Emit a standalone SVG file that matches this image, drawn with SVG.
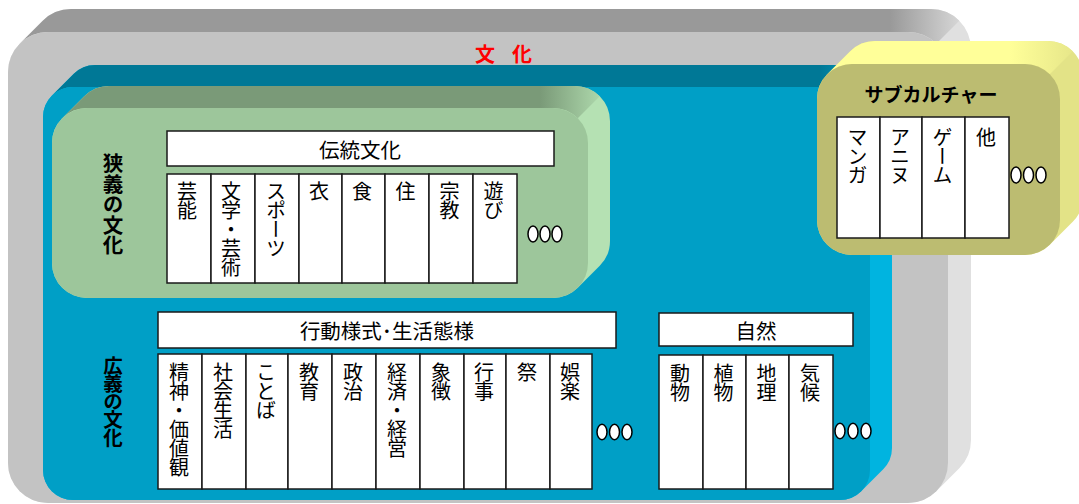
<svg xmlns="http://www.w3.org/2000/svg" width="1079" height="504" viewBox="0 0 1079 504">
<style>
.t{font-family:"Noto Sans CJK JP","Noto Sans",sans-serif;fill:#000}
.v{writing-mode:vertical-rl;font-size:20px;letter-spacing:-1px}
.h{font-size:20.5px;text-anchor:middle;dominant-baseline:central}
.b{font-weight:700}
.cell{fill:#fff;stroke:#1a1a1a;stroke-width:1.5}
.dot{fill:#fff;stroke:#000;stroke-width:1.5}
</style>
<defs>
<linearGradient id="gTop" gradientUnits="userSpaceOnUse" x1="890" y1="0" x2="971" y2="0"><stop offset="0" stop-color="#999"/><stop offset="1" stop-color="#e0e0e0"/></linearGradient>
<linearGradient id="bTop" gradientUnits="userSpaceOnUse" x1="820" y1="0" x2="892" y2="0"><stop offset="0" stop-color="#007896"/><stop offset="1" stop-color="#00b4e0"/></linearGradient>
<linearGradient id="grTop" gradientUnits="userSpaceOnUse" x1="540" y1="0" x2="610" y2="0"><stop offset="0" stop-color="#7a9a78"/><stop offset="1" stop-color="#b5e1b3"/></linearGradient>
<linearGradient id="yTop" gradientUnits="userSpaceOnUse" x1="1010" y1="0" x2="1083" y2="0"><stop offset="0" stop-color="#ffff99"/><stop offset="1" stop-color="#e3e387"/></linearGradient>
</defs>
<rect width="1079" height="504" fill="#fff"/>

<g id="culture">
<path fill="#e0e0e0" d="M 8,463 L 8,72 A 40 40 0 0 1 19.72,43.72 L 42.72,20.72 A 40 40 0 0 1 71,9 L 931,9 A 40 40 0 0 1 971,49 L 971,440 A 40 40 0 0 1 959.28,468.28 L 936.28,491.28 A 40 40 0 0 1 908,503 L 48,503 A 40 40 0 0 1 8,463 Z"/>
<path fill="url(#gTop)" d="M 19.72,43.72 L 42.72,20.72 A 40 40 0 0 1 71,9 L 931,9 A 40 40 0 0 1 959.28,20.72 L 936.28,43.72 A 40 40 0 0 0 908,32 L 48,32 A 40 40 0 0 0 19.72,43.72 Z"/>
<rect x="8" y="32" width="940" height="471" rx="40" fill="#c3c3c3"/>
<text class="t b" x="475" y="53.5" font-size="20" fill="#ff0000" style="fill:#ff0000;letter-spacing:6.25px;dominant-baseline:central">文 化</text>
</g>

<g id="broad">
<path fill="#00b4e0" d="M 43,470 L 43,117 A 30 30 0 0 1 51.79,95.79 L 73.79,73.79 A 30 30 0 0 1 95,65 L 862,65 A 30 30 0 0 1 892,95 L 892,448 A 30 30 0 0 1 883.21,469.21 L 861.21,491.21 A 30 30 0 0 1 840,500 L 73,500 A 30 30 0 0 1 43,470 Z"/>
<path fill="url(#bTop)" d="M 51.79,95.79 L 73.79,73.79 A 30 30 0 0 1 95,65 L 862,65 A 30 30 0 0 1 883.21,73.79 L 861.21,95.79 A 30 30 0 0 0 840,87 L 73,87 A 30 30 0 0 0 51.79,95.79 Z"/>
<rect x="43" y="87" width="827" height="413" rx="30" fill="#009fc6"/>
<text class="t b v" x="113" y="356" style="font-size:19.5px;letter-spacing:-1.5px">広義の文化</text>
</g>

<g id="behavior">
<rect class="cell" x="158" y="312" width="458" height="36"/>
<text class="t h" x="387" y="330">行動様式･生活態様</text>
<rect class="cell" x="158" y="354" width="44" height="135"/>
<rect class="cell" x="202" y="354" width="44" height="135"/>
<rect class="cell" x="246" y="354" width="42" height="135"/>
<rect class="cell" x="288" y="354" width="44" height="135"/>
<rect class="cell" x="332" y="354" width="44" height="135"/>
<rect class="cell" x="376" y="354" width="44" height="135"/>
<rect class="cell" x="420" y="354" width="44" height="135"/>
<rect class="cell" x="464" y="354" width="42" height="135"/>
<rect class="cell" x="506" y="354" width="44" height="135"/>
<rect class="cell" x="550" y="354" width="42" height="135"/>
<text class="t v" x="179" y="362">精神・価値観</text>
<text class="t v" x="223" y="362">社会生活</text>
<text class="t v" x="266" y="362">ことば</text>
<text class="t v" x="309" y="362">教育</text>
<text class="t v" x="353" y="362">政治</text>
<text class="t v" x="397" y="362">経済・経営</text>
<text class="t v" x="441" y="362">象徴</text>
<text class="t v" x="484" y="362">行事</text>
<text class="t v" x="527" y="362">祭</text>
<text class="t v" x="570" y="362">娯楽</text>
<ellipse class="dot" cx="602" cy="432" rx="5" ry="7.7"/>
<ellipse class="dot" cx="614.5" cy="432" rx="5" ry="7.7"/>
<ellipse class="dot" cx="627" cy="432" rx="5" ry="7.7"/>
</g>

<g id="nature">
<rect class="cell" x="659" y="313" width="194" height="33"/>
<text class="t h" x="756" y="330">自然</text>
<rect class="cell" x="659" y="355" width="44" height="134"/>
<rect class="cell" x="703" y="355" width="43" height="134"/>
<rect class="cell" x="746" y="355" width="43" height="134"/>
<rect class="cell" x="789" y="355" width="44" height="134"/>
<text class="t v" x="680" y="363">動物</text>
<text class="t v" x="723.5" y="363">植物</text>
<text class="t v" x="766.5" y="363">地理</text>
<text class="t v" x="810" y="363">気候</text>
<ellipse class="dot" cx="840" cy="431" rx="5" ry="7.7"/>
<ellipse class="dot" cx="853" cy="431" rx="5" ry="7.7"/>
<ellipse class="dot" cx="866" cy="431" rx="5" ry="7.7"/>
</g>

<g id="narrow">
<path fill="#b5e1b3" d="M 52,263 L 52,143 A 35 35 0 0 1 62.25,118.25 L 84.25,96.25 A 35 35 0 0 1 109,86 L 575,86 A 35 35 0 0 1 610,121 L 610,241 A 35 35 0 0 1 599.75,265.75 L 577.75,287.75 A 35 35 0 0 1 553,298 L 87,298 A 35 35 0 0 1 52,263 Z"/>
<path fill="url(#grTop)" d="M 62.25,118.25 L 84.25,96.25 A 35 35 0 0 1 109,86 L 575,86 A 35 35 0 0 1 599.75,96.25 L 577.75,118.25 A 35 35 0 0 0 553,108 L 87,108 A 35 35 0 0 0 62.25,118.25 Z"/>
<rect x="52" y="108" width="536" height="190" rx="35" fill="#9dc69b"/>
<text class="t b v" x="113" y="153" style="font-size:20.5px;letter-spacing:0px">狭義の文化</text>
</g>

<g id="traditional">
<rect class="cell" x="167" y="131" width="387" height="35"/>
<text class="t h" x="360" y="148.5">伝統文化</text>
<rect class="cell" x="167" y="174" width="44" height="109"/>
<rect class="cell" x="211" y="174" width="44" height="109"/>
<rect class="cell" x="255" y="174" width="44" height="109"/>
<rect class="cell" x="299" y="174" width="43" height="109"/>
<rect class="cell" x="342" y="174" width="43" height="109"/>
<rect class="cell" x="385" y="174" width="44" height="109"/>
<rect class="cell" x="429" y="174" width="44" height="109"/>
<rect class="cell" x="473" y="174" width="44" height="109"/>
<text class="t v" x="187" y="181">芸能</text>
<text class="t v" x="231" y="181">文学・芸術</text>
<text class="t v" x="276" y="181">スポーツ</text>
<text class="t v" x="319" y="181">衣</text>
<text class="t v" x="362" y="181">食</text>
<text class="t v" x="405.5" y="181">住</text>
<text class="t v" x="449.5" y="181">宗教</text>
<text class="t v" x="493.5" y="181">遊び</text>
<ellipse class="dot" cx="533" cy="234" rx="5" ry="8"/>
<ellipse class="dot" cx="545" cy="234" rx="5" ry="8"/>
<ellipse class="dot" cx="557" cy="234" rx="5" ry="8"/>
</g>

<g id="subculture">
<path fill="#e3e387" d="M 817,220 L 817,99 A 35 35 0 0 1 827.25,74.25 L 850.25,51.25 A 35 35 0 0 1 875,41 L 1048,41 A 35 35 0 0 1 1083,76 L 1083,197 A 35 35 0 0 1 1072.75,221.75 L 1049.75,244.75 A 35 35 0 0 1 1025,255 L 852,255 A 35 35 0 0 1 817,220 Z"/>
<path fill="url(#yTop)" d="M 827.25,74.25 L 850.25,51.25 A 35 35 0 0 1 875,41 L 1048,41 A 35 35 0 0 1 1072.75,51.25 L 1049.75,74.25 A 35 35 0 0 0 1025,64 L 852,64 A 35 35 0 0 0 827.25,74.25 Z"/>
<rect x="817" y="64" width="243" height="191" rx="35" fill="#bcbc71"/>
<text class="t b h" x="931" y="93" style="font-size:19px">サブカルチャー</text>
<rect class="cell" x="837" y="117" width="43" height="121"/>
<rect class="cell" x="880" y="117" width="42" height="121"/>
<rect class="cell" x="922" y="117" width="43" height="121"/>
<rect class="cell" x="965" y="117" width="44" height="121"/>
<text class="t v" x="857.5" y="127">マンガ</text>
<text class="t v" x="900" y="127">アニヌ</text>
<text class="t v" x="942.5" y="127">ゲーム</text>
<text class="t v" x="986" y="127">他</text>
<ellipse class="dot" cx="1016" cy="175" rx="5" ry="8"/>
<ellipse class="dot" cx="1028.5" cy="175" rx="5" ry="8"/>
<ellipse class="dot" cx="1041" cy="175" rx="5" ry="8"/>
</g>
</svg>
